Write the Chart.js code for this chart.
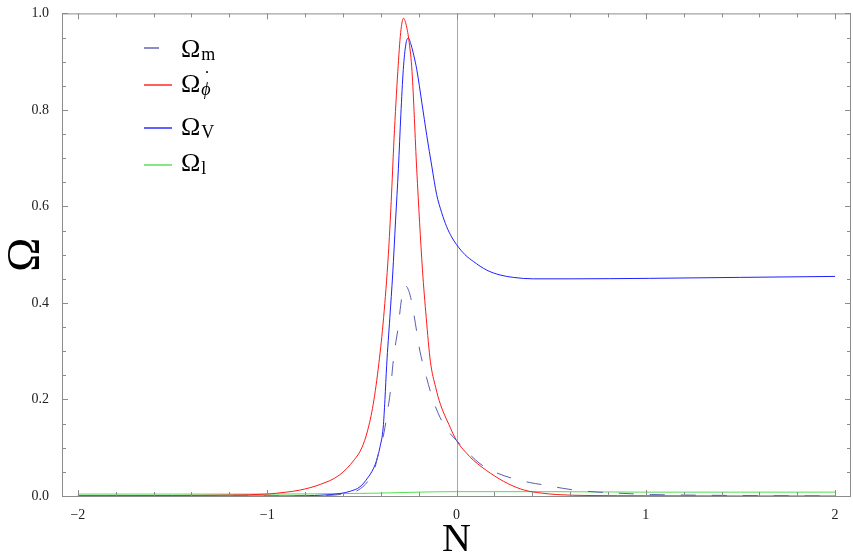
<!DOCTYPE html>
<html>
<head>
<meta charset="utf-8">
<script src="https://cdn.jsdelivr.net/npm/chart.js@4/dist/chart.umd.min.js"></script>
<style>
  html, body { margin: 0; padding: 0; background: #fff; }
</style>
</head>
<body>
<canvas id="myChart" width="853" height="559"></canvas>
<script>
// Omega_m (dashed)
const nMatter = [-2, -1, -0.7, -0.6, -0.52, -0.46, -0.43, -0.413, -0.395, -0.378, -0.365, -0.351, -0.334, -0.32, -0.307, -0.295, -0.283, -0.272, -0.26, -0.245, -0.228, -0.21, -0.193, -0.158, -0.125, -0.087, -0.045, 0, 0.06, 0.124, 0.2, 0.3, 0.385, 0.477, 0.56, 0.653, 0.75, 0.847, 1.03, 1.2, 1.5, 2.0];
const omegaMatter = [0, 0, 0.001, 0.004, 0.012, 0.035, 0.06, 0.087, 0.11, 0.142, 0.175, 0.211, 0.28, 0.32, 0.352, 0.395, 0.425, 0.436, 0.432, 0.416, 0.383, 0.34, 0.30, 0.245, 0.20, 0.163, 0.135, 0.115, 0.09, 0.067, 0.05, 0.036, 0.028, 0.022, 0.016, 0.011, 0.008, 0.006, 0.003, 0.002, 0.001, 0];

// Omega_phi-dot (red)
const nPhi = [-2, -1.5, -1.2, -1.0, -0.9, -0.83, -0.72, -0.62, -0.54, -0.5, -0.47, -0.44, -0.41, -0.385, -0.36, -0.345, -0.33, -0.31, -0.295, -0.28, -0.265, -0.25, -0.235, -0.21, -0.18, -0.16, -0.138, -0.11, -0.085, -0.04, 0, 0.05, 0.09, 0.18, 0.27, 0.36, 0.45, 0.53, 0.7, 1.0, 1.5, 2.0];
const omegaPhi = [0.0005, 0.001, 0.002, 0.004, 0.008, 0.012, 0.024, 0.043, 0.075, 0.10, 0.135, 0.19, 0.275, 0.37, 0.50, 0.61, 0.74, 0.88, 0.96, 0.99, 0.975, 0.94, 0.88, 0.676, 0.47, 0.37, 0.279, 0.225, 0.19, 0.148, 0.115, 0.09, 0.074, 0.047, 0.026, 0.012, 0.006, 0.003, 0.001, 0.0005, 0, 0];

// Omega_V (blue)
const nV = [-2, -1.0, -0.8, -0.7, -0.616, -0.56, -0.51, -0.47, -0.44, -0.422, -0.405, -0.387, -0.378, -0.369, -0.352, -0.337, -0.322, -0.307, -0.294, -0.281, -0.268, -0.255, -0.24, -0.225, -0.21, -0.183, -0.157, -0.13, -0.105, -0.079, -0.052, -0.026, 0, 0.045, 0.089, 0.16, 0.23, 0.3, 0.406, 0.6, 1.02, 1.5, 2.0];
const omegaV = [0, 0, 0.0005, 0.002, 0.005, 0.01, 0.019, 0.037, 0.056, 0.074, 0.10, 0.143, 0.20, 0.27, 0.37, 0.46, 0.57, 0.678, 0.79, 0.884, 0.935, 0.949, 0.935, 0.912, 0.884, 0.815, 0.747, 0.682, 0.625, 0.588, 0.558, 0.537, 0.521, 0.50, 0.486, 0.468, 0.458, 0.453, 0.450, 0.450, 0.451, 0.453, 0.455];

// Omega_l (green)
const nL = [-2, -1.5, -1, -0.6, -0.4, -0.2, 0, 0.2, 0.5, 1, 1.5, 2];
const omegaL = [0.004, 0.004, 0.004, 0.005, 0.006, 0.008, 0.009, 0.009, 0.009, 0.008, 0.008, 0.008];

const xTickLabels = [-2, -1, 0, 1, 2];
const yTickLabels = [0, 0.2, 0.4, 0.6, 0.8, 1.0];

const serif = '"Liberation Serif", "DejaVu Serif", serif';

function toPoints(xs, ys) {
    return xs.map((x, i) => ({ x: x, y: ys[i] }));
}

const seriesStyles = [
    { key: 'm', xs: nMatter, ys: omegaMatter, color: '#5b5bb0', dash: [15, 16] },
    { key: 'phi', xs: nPhi, ys: omegaPhi, color: '#ff1a1a', dash: [] },
    { key: 'V', xs: nV, ys: omegaV, color: '#2020ff', dash: [] },
    { key: 'l', xs: nL, ys: omegaL, color: '#4fe04f', dash: [] }
];

// frame, inward ticks and the N = 0 axis line
const frameTicks = {
    id: 'frameTicks',
    beforeDatasetsDraw(chart) {
        const { ctx, chartArea: a, scales: { x } } = chart;
        const px = Math.round(x.getPixelForValue(0)) + 0.5;
        ctx.save();
        ctx.strokeStyle = '#a8a8a8';
        ctx.lineWidth = 1;
        ctx.beginPath();
        ctx.moveTo(px, a.top);
        ctx.lineTo(px, a.bottom);
        ctx.stroke();
        ctx.restore();
    },
    afterDatasetsDraw(chart) {
        const { ctx, chartArea: a, scales: { x, y } } = chart;
        ctx.save();
        ctx.strokeStyle = '#8c8c8c';
        ctx.lineWidth = 1;
        ctx.setLineDash([]);
        ctx.strokeRect(a.left + 0.5, a.top + 0.5, a.right - a.left - 1, a.bottom - a.top);
        ctx.beginPath();
        for (let i = -10; i <= 10; i++) {
            const v = i / 5;
            const len = (i % 5 === 0) ? 6 : 4;
            const px = Math.round(x.getPixelForValue(v)) + 0.5;
            ctx.moveTo(px, a.bottom); ctx.lineTo(px, a.bottom - len);
            ctx.moveTo(px, a.top); ctx.lineTo(px, a.top + len);
        }
        for (let i = 0; i <= 20; i++) {
            const v = i / 20;
            const len = (i % 4 === 0) ? 6 : 4;
            const py = Math.round(y.getPixelForValue(v)) + 0.5;
            ctx.moveTo(a.left, py); ctx.lineTo(a.left + len, py);
            ctx.moveTo(a.right, py); ctx.lineTo(a.right - len, py);
        }
        ctx.stroke();
        ctx.restore();
    }
};

// legend with subscripts, drawn inside the plot
const subLegend = {
    id: 'subLegend',
    afterDraw(chart) {
        const { ctx } = chart;
        const rows = [
            { lineY: 48, base: 57, sub: 'm', italic: false, x2: 159 },
            { lineY: 85, base: 92, sub: '\u03D5', italic: true, x2: 172, dot: true },
            { lineY: 128, base: 135, sub: 'V', italic: false, x2: 172 },
            { lineY: 165, base: 171, sub: 'l', italic: false, x2: 172 }
        ];
        ctx.save();
        rows.forEach((r, i) => {
            const s = seriesStyles[i];
            ctx.strokeStyle = s.color;
            ctx.lineWidth = 1.4;
            ctx.setLineDash([]);
            ctx.beginPath();
            ctx.moveTo(144, r.lineY);
            ctx.lineTo(r.x2, r.lineY);
            ctx.stroke();
            ctx.fillStyle = '#000';
            ctx.textBaseline = 'alphabetic';
            ctx.textAlign = 'left';
            ctx.font = '26px ' + serif;
            ctx.fillText('\u03A9', 181, r.base);
            const w = ctx.measureText('\u03A9').width;
            const sx = 181 + w + 1;
            ctx.font = (r.italic ? 'italic ' : '') + '18px ' + serif;
            ctx.fillText(r.sub, sx, r.base + 3);
            if (r.dot) {
                const sw = ctx.measureText(r.sub).width;
                ctx.font = '18px ' + serif;
                ctx.textAlign = 'center';
                ctx.fillText('\u02D9', sx + sw / 2 + 1, r.base - 8);
            }
        });
        ctx.restore();
    }
};

const ctx = document.getElementById('myChart');
const chart = new Chart(ctx, {
    type: 'line',
    data: {
        datasets: seriesStyles.map(s => ({
            label: s.key,
            data: toPoints(s.xs, s.ys),
            borderColor: s.color,
            borderWidth: 1,
            borderDash: s.dash,
            pointRadius: 0,
            fill: false,
            cubicInterpolationMode: 'monotone'
        }))
    },
    options: {
        responsive: false,
        animation: false,
        events: [],
        layout: { padding: { top: 10, right: 2, left: 0, bottom: 0 } },
        plugins: {
            legend: { display: false },
            tooltip: { enabled: false }
        },
        scales: {
            x: {
                type: 'linear',
                min: -2.084,
                max: 2.084,
                grid: { display: false },
                border: { display: false },
                afterBuildTicks: (scale) => {
                    scale.ticks = xTickLabels.map(v => ({ value: v }));
                },
                afterFit: (scale) => { scale.height = 63; },
                ticks: {
                    padding: 3,
                    maxRotation: 0,
                    color: '#222',
                    font: { family: serif, size: 14 },
                    callback: (v) => (v < 0 ? '\u2212' + Math.abs(v) : String(v))
                },
                title: {
                    display: true,
                    text: 'N',
                    color: '#000',
                    padding: 0,
                    font: { family: serif, size: 40, lineHeight: 0.95 }
                }
            },
            y: {
                type: 'linear',
                min: 0,
                max: 1,
                grid: { display: false },
                border: { display: false },
                afterBuildTicks: (scale) => {
                    scale.ticks = yTickLabels.map(v => ({ value: v }));
                },
                afterFit: (scale) => { scale.width = 62; },
                ticks: {
                    padding: 5,
                    color: '#222',
                    font: { family: serif, size: 14 },
                    callback: (v) => Number(v).toFixed(1)
                },
                title: {
                    display: true,
                    text: '\u03A9',
                    color: '#000',
                    padding: 0,
                    font: { family: serif, size: 46, lineHeight: 1.15 }
                }
            }
        }
    },
    plugins: [frameTicks, subLegend]
});
</script>
</body>
</html>
